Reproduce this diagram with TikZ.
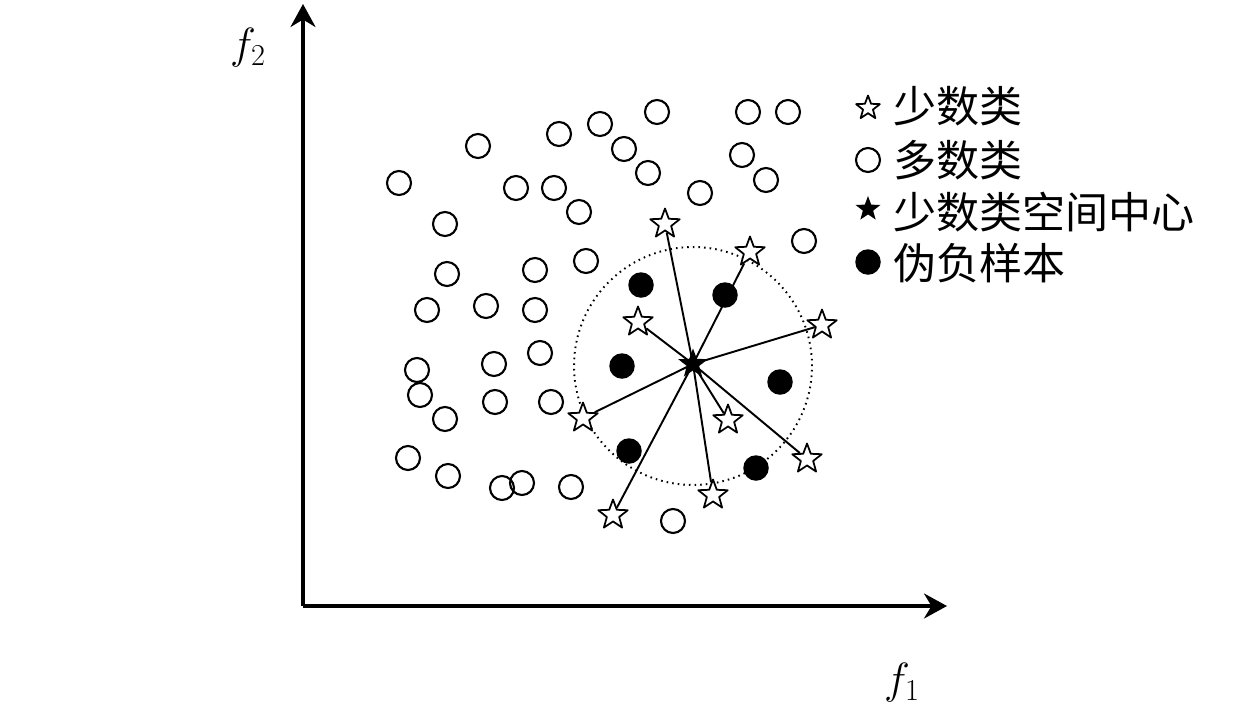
\documentclass[tikz,border=0pt]{standalone}
\usepackage{fontspec}
\newfontfamily\cjk{Noto Sans CJK SC}
\usetikzlibrary{shapes.geometric,arrows.meta}
\begin{document}
\begin{tikzpicture}[x=0.02cm,y=-0.02cm,line join=round,>={Stealth[length=0.46cm,width=0.5cm]},
	majcirc/.style={circle,draw,line width=1.2pt,minimum size=0.48cm,inner sep=0pt},
	minstar/.style={star,star points=5,star point ratio=2.4,draw,line width=1pt,fill=white,minimum size=0.62cm,inner sep=0pt},
	ctrstar/.style={star,star points=5,star point ratio=2.4,fill=black,minimum size=0.62cm,inner sep=0pt},
	fakept/.style={circle,fill=black,minimum size=0.51cm,inner sep=0pt},
	lgd/.style={anchor=west,inner sep=0pt,font=\cjk\fontsize{24.5}{28}\selectfont}]
	\useasboundingbox (0,0) rectangle (1260,707);
	\coordinate (o) at (303,606);
	\coordinate (ytip) at (303,4);
	\coordinate (xtip) at (947,606);
	\draw[line width=2pt,->] (o)--(ytip);
	\draw[line width=2pt,->] (o)--(xtip);
	\node[font=\fontsize{23}{27}\selectfont] (f2) at (248,48) {$f_2$};
	\node[font=\fontsize{23}{27}\selectfont] (f1) at (902,683) {$f_1$};
	\node[circle,draw,line width=1.1pt,dash pattern=on 0.9pt off 2.3pt,minimum size=4.76cm,inner sep=0pt] (ring) at (693,366) {};
	\foreach \p [count=\i] in {(399,183),(478,146),(559,134),(600,124),(657,112),(624,149),(648,173),(516,188),(554,188),(579,212),
		(445,224),(700,193),(748,112),(788,112),(742,155),(766,180),(804,241),(447,274),(535,270),(586,261),
		(427,310),(486,306),(535,310),(494,364),(540,353),(417,370),(420,395),(495,402),(551,402),(445,419),
		(408,458),(448,476),(502,488),(522,483),(571,487),(673,521)}
		\node[majcirc] (m\i) at \p {};
	\foreach \p [count=\i] in {(641,285),(725,295),(622,366),(780,382),(629,451),(756,468)}
		\node[fakept] (p\i) at \p {};
	\foreach \p [count=\i] in {(665,224),(750,252),(822,325),(638,322),(583,418),(728,420),(807,459),(713,495),(613,515)}
		\node[minstar] (s\i) at \p {};
	\node[ctrstar] (c) at (693,364) {};
	\foreach \i in {1,...,9}
		\draw[line width=1.1pt] (c.center)--(s\i);
	\node[minstar,minimum size=0.5cm] (l1) at (868,108) {};
	\node[majcirc] (l2) at (868,160) {};
	\node[ctrstar,minimum size=0.52cm] (l3) at (868,209) {};
	\node[fakept] (l4) at (868,262) {};
	\node[lgd] (t1) at (893,106) {少数类};
	\node[lgd] (t2) at (893,160) {多数类};
	\node[lgd] (t3) at (893,212) {少数类空间中心};
	\node[lgd] (t4) at (893,263) {伪负样本};
\end{tikzpicture}
\end{document}
